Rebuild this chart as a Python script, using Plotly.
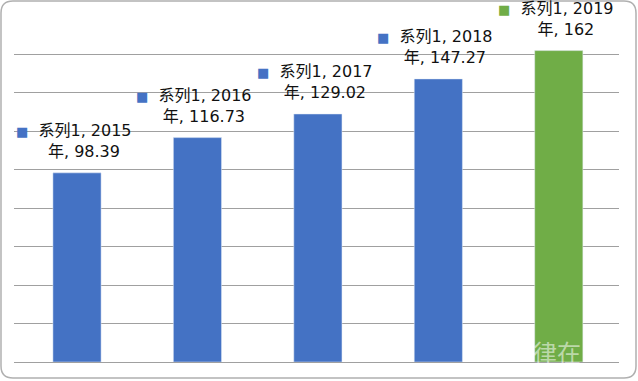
import plotly.graph_objects as go

categories = ["2015年", "2016年", "2017年", "2018年", "2019年"]
years = ["2015", "2016", "2017", "2018", "2019"]
values = [98.39, 116.73, 129.02, 147.27, 162]
value_labels = ["98.39", "116.73", "129.02", "147.27", "162"]
series_name = "系列1"
colors = ["#4472C4", "#4472C4", "#4472C4", "#4472C4", "#70AD47"]

W, H = 638, 381
L, R, T, B = 14, 19, 16, 19
PW, PH = W - L - R, H - T - B

def px(x):
    return (x - L) / PW

def py(y):
    return (H - B - y) / PH

fig = go.Figure()
fig.add_trace(go.Bar(
    x=categories, y=values, marker_color=colors, width=0.4,
    hoverinfo="skip", showlegend=False,
))

font_fam = "DejaVu Sans, Noto Sans CJK SC, sans-serif"
for c, yr, v, lab, col in zip(categories, years, values, value_labels, colors):
    fig.add_annotation(
        x=c, y=v, xref="x", yref="y", yanchor="bottom", yshift=10, xshift=-3,
        showarrow=False, align="center",
        text=f"<span style='color:{col};font-size:13px'>■</span>  {series_name}, {yr}<br>&nbsp;&nbsp;&nbsp;&nbsp;年, {lab}",
        font=dict(family=font_fam, size=16, color="#111"),
    )

# faint watermark
fig.add_annotation(x=px(531), y=py(351), xref="paper", yref="paper", showarrow=False,
                   xanchor="left", yanchor="middle",
                   text="律在", font=dict(family="Noto Sans CJK SC", size=24, color="rgba(255,255,255,0.55)"))

# rounded outer border
r = 12
x0, x1, y0, y1 = 1, 636, 1, 378
def P(x, y):
    return f"{px(x):.5f},{py(y):.5f}"
path = (f"M {P(x0+r, y0)} L {P(x1-r, y0)} Q {P(x1, y0)} {P(x1, y0+r)} "
        f"L {P(x1, y1-r)} Q {P(x1, y1)} {P(x1-r, y1)} L {P(x0+r, y1)} "
        f"Q {P(x0, y1)} {P(x0, y1-r)} L {P(x0, y0+r)} Q {P(x0, y0)} {P(x0+r, y0)} Z")
fig.add_shape(type="path", path=path, xref="paper", yref="paper",
              line=dict(color="#B0B0B0", width=1.5), layer="below")

fig.update_layout(
    width=W, height=H,
    margin=dict(l=L, r=R, t=T, b=B),
    paper_bgcolor="white", plot_bgcolor="white",
    bargap=0.6,
)
fig.update_xaxes(showticklabels=False, showgrid=False, showline=False, ticks="")
fig.update_yaxes(range=[0, 180], dtick=20, showticklabels=False, showgrid=True,
                 gridcolor="#A0A0A0", gridwidth=1, zeroline=True, zerolinecolor="#A0A0A0",
                 zerolinewidth=1, showline=False, ticks="")

fig.write_html("out.html", config={"displayModeBar": False},
               post_script="document.body.style.margin='0';document.body.style.overflow='hidden';")
